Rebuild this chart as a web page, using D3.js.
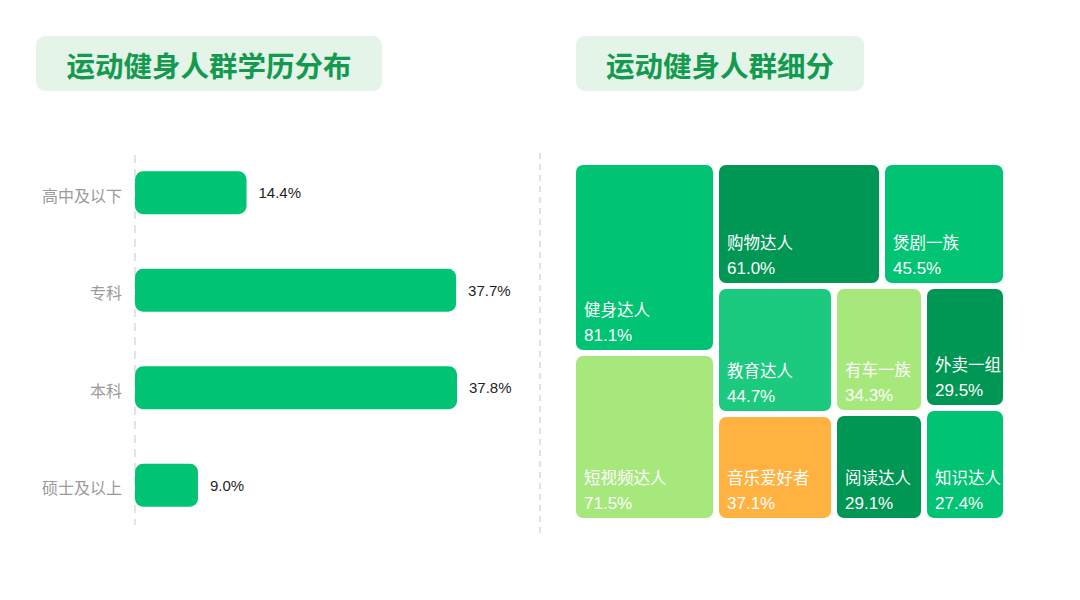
<!DOCTYPE html>
<html>
<head>
    <meta charset="utf-8">
    <title>运动健身人群</title>
    <style type="text/css">
    body {
        margin: 0;
        background: #fff;
        font-family: "Liberation Sans", "Noto Sans CJK SC", sans-serif;
    }
    </style>
</head>
<body>
    <script src="https://cdn.jsdelivr.net/npm/d3@7"></script>
    <div id="chart"></div>
    <script>
    // left chart: education
    var eduCategories = ['高中及以下', '专科', '本科', '硕士及以上'];
    var eduValues = [14.4, 37.7, 37.8, 9.0];

    // right chart: segments (grouped the way the tiles are stacked)
    var segNames = ['健身达人', '短视频达人', '购物达人', '煲剧一族', '教育达人', '音乐爱好者', '有车一族', '阅读达人', '外卖一组', '知识达人'];
    var segValues = [81.1, 71.5, 61.0, 45.5, 44.7, 37.1, 34.3, 29.1, 29.5, 27.4];
    var segColors = ['#00c473', '#a6e87c', '#009654', '#00c473', '#1bca7e', '#ffb23f', '#a6e87c', '#009654', '#009654', '#00c473'];

    var titles = ['运动健身人群学历分布', '运动健身人群细分'];

    var W = 1080, H = 600;
    var green = '#00c473';

    var svg = d3.select('#chart').append('svg')
        .attr('width', W)
        .attr('height', H);

    // title boxes
    var titleBoxes = [{x: 36, w: 346}, {x: 576, w: 288}];
    titleBoxes.forEach(function(b, i) {
        svg.append('rect')
            .attr('x', b.x).attr('y', 36)
            .attr('width', b.w).attr('height', 55)
            .attr('rx', 9)
            .attr('fill', '#e4f4e9');
        svg.append('text')
            .attr('x', b.x + b.w / 2).attr('y', 64)
            .attr('text-anchor', 'middle')
            .attr('dominant-baseline', 'central')
            .attr('font-family', '"Noto Sans CJK SC", sans-serif')
            .attr('font-size', 28.5)
            .attr('font-weight', 'bold')
            .attr('fill', '#139a4f')
            .text(titles[i]);
    });

    // separator
    svg.append('line')
        .attr('x1', 540).attr('x2', 540)
        .attr('y1', 153).attr('y2', 537)
        .attr('stroke', '#d9d9d9')
        .attr('stroke-width', 1.5)
        .attr('stroke-dasharray', '6,5');

    // ---------- bar chart ----------
    var x0 = 135;
    var xScale = d3.scaleLinear()
        .domain([2, 37.8])
        .range([0, 322]);

    var yScale = d3.scaleBand()
        .domain(eduCategories)
        .range([144, 534])
        .paddingInner(0.56)
        .paddingOuter(0.28);

    var bars = svg.append('g').attr('transform', 'translate(' + x0 + ',0)');

    bars.append('line')
        .attr('x1', 0).attr('x2', 0)
        .attr('y1', 155).attr('y2', 525)
        .attr('stroke', '#dcdcdc')
        .attr('stroke-width', 1.5)
        .attr('stroke-dasharray', '8,6');

    var eduData = eduCategories.map(function(c, i) { return {cat: c, v: eduValues[i]}; });

    bars.selectAll('rect.bar')
        .data(eduData)
        .enter()
        .append('rect')
        .attr('class', 'bar')
        .attr('x', 0)
        .attr('y', function(d) { return yScale(d.cat); })
        .attr('width', function(d) { return xScale(d.v); })
        .attr('height', yScale.bandwidth())
        .attr('rx', 8)
        .attr('fill', green);

    bars.selectAll('text.val')
        .data(eduData)
        .enter()
        .append('text')
        .attr('class', 'val')
        .attr('x', function(d) { return xScale(d.v) + 12; })
        .attr('y', function(d) { return yScale(d.cat) + yScale.bandwidth() / 2; })
        .attr('dominant-baseline', 'central')
        .attr('font-size', 15)
        .attr('fill', '#1f1f1f')
        .text(function(d) { return d.v.toFixed(1) + '%'; });

    bars.selectAll('text.cat')
        .data(eduData)
        .enter()
        .append('text')
        .attr('class', 'cat')
        .attr('x', -13)
        .attr('y', function(d) { return yScale(d.cat) + yScale.bandwidth() / 2 + 2; })
        .attr('text-anchor', 'end')
        .attr('dominant-baseline', 'central')
        .attr('font-family', '"Noto Sans CJK SC", sans-serif')
        .attr('font-size', 16)
        .attr('fill', '#9a9a9a')
        .text(function(d) { return d.cat; });

    // ---------- treemap ----------
    function leaf(i) {
        return {name: segNames[i], value: segValues[i], color: segColors[i]};
    }
    var tree = {
        children: [
            {children: [leaf(0), leaf(1)]},
            {children: [
                {children: [leaf(2), leaf(3)]},
                {children: [
                    {children: [leaf(4), leaf(5)]},
                    {children: [leaf(6), leaf(7)]},
                    {children: [leaf(8), leaf(9)]}
                ]}
            ]}
        ]
    };

    var root = d3.hierarchy(tree)
        .sum(function(d) { return d.children ? 0 : d.value; });

    d3.treemap()
        .tile(d3.treemapSliceDice)
        .size([427, 353])
        .paddingInner(6)
        .round(true)(root);

    var tm = svg.append('g').attr('transform', 'translate(576,165)');

    var cell = tm.selectAll('g.cell')
        .data(root.leaves())
        .enter()
        .append('g')
        .attr('class', 'cell')
        .attr('transform', function(d) { return 'translate(' + d.x0 + ',' + d.y0 + ')'; });

    cell.append('rect')
        .attr('width', function(d) { return d.x1 - d.x0; })
        .attr('height', function(d) { return d.y1 - d.y0; })
        .attr('rx', 7)
        .attr('fill', function(d) { return d.data.color; });

    cell.append('text')
        .attr('x', 8)
        .attr('y', function(d) { return d.y1 - d.y0 - 34; })
        .attr('font-family', '"Noto Sans CJK SC", sans-serif')
        .attr('font-size', 16.5)
        .attr('fill', '#fff')
        .text(function(d) { return d.data.name; });

    cell.append('text')
        .attr('x', 8)
        .attr('y', function(d) { return d.y1 - d.y0 - 9; })
        .attr('font-size', 17)
        .attr('fill', '#fff')
        .text(function(d) { return d.data.value.toFixed(1) + '%'; });
    </script>
</body>
</html>
